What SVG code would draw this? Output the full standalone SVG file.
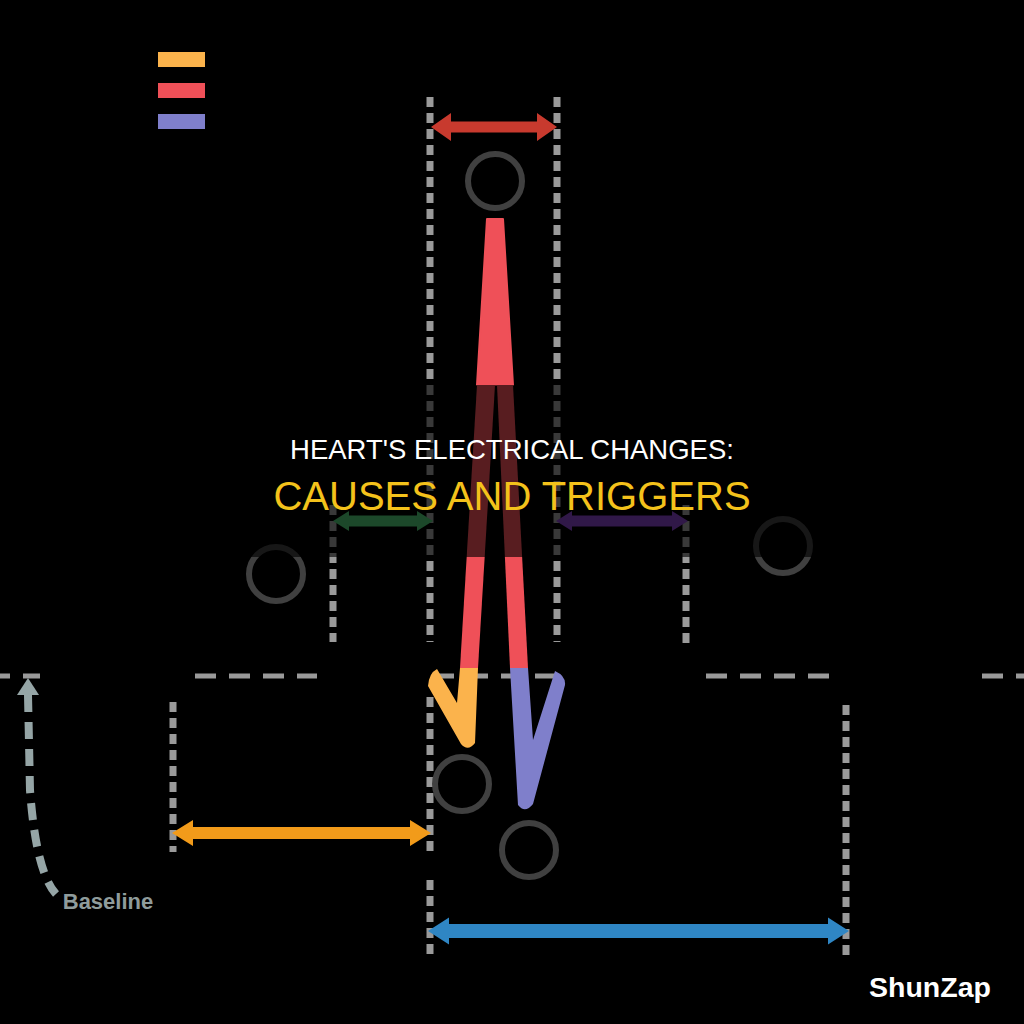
<svg xmlns="http://www.w3.org/2000/svg" width="1024" height="1024" viewBox="0 0 1024 1024">
<style>
.guide{stroke:#9a9a9a;stroke-width:7;stroke-dasharray:10 6;fill:none}
.base{stroke:#9a9a9a;stroke-width:5;stroke-dasharray:21 13;fill:none}
.ring{fill:none;stroke:#404040;stroke-width:6}
.title{font-family:"Liberation Sans",Arial,sans-serif;text-anchor:middle}
</style>
<rect width="1024" height="1024" fill="#000"/>
<g id="legend">
<rect x="158" y="52" width="47" height="15" fill="#FBB34C"/>
<rect x="158" y="83" width="47" height="15" fill="#EF5058"/>
<rect x="158" y="114" width="47" height="15" fill="#7F7FCB"/>
</g>
<g id="connectors">
<line class="guide" x1="430" y1="97" x2="430" y2="642"/>
<line class="guide" x1="557" y1="97" x2="557" y2="642"/>
<line class="guide" x1="333" y1="505" x2="333" y2="642"/>
<line class="guide" x1="686" y1="505" x2="686" y2="645"/>
<line class="guide" x1="173" y1="702" x2="173" y2="852"/>
<line class="guide" x1="430" y1="697" x2="430" y2="852"/>
<line class="guide" x1="430" y1="880" x2="430" y2="955"/>
<line class="guide" x1="846" y1="705" x2="846" y2="955"/>
<line class="base" x1="-11" y1="676" x2="40" y2="676"/>
<line class="base" x1="195" y1="676" x2="317" y2="676"/>
<line class="base" x1="433" y1="676" x2="556" y2="676"/>
<line class="base" x1="706" y1="676" x2="829" y2="676"/>
<line class="base" x1="982" y1="676" x2="1030" y2="676"/>
<path d="M431,127 L451,113 L451,121.5 L537,121.5 L537,113 L557,127 L537,141 L537,132.5 L451,132.5 L451,141 Z" fill="#C83A2E"/>
<path d="M333,521 L349,511 L349,515.5 L417,515.5 L417,511 L433,521 L417,531 L417,526.5 L349,526.5 L349,531 Z" fill="#4CC372"/>
<path d="M556,521 L572,511 L572,515.5 L672,515.5 L672,511 L688,521 L672,531 L672,526.5 L572,526.5 L572,531 Z" fill="#8241C3"/>
<path d="M172,833 L193,820 L193,827 L410,827 L410,820 L431,833 L410,846 L410,839 L193,839 L193,846 Z" fill="#F29B1A"/>
<path d="M428,931 L449,917.5 L449,924 L828,924 L828,917.5 L849,931 L828,944.5 L828,938 L449,938 L449,944.5 Z" fill="#2F86C4"/>
<path d="M28,695 L30,790 Q36,872 56,894" fill="none" stroke="#95a5a6" stroke-width="8" stroke-dasharray="17 10"/>
<path d="M28,678 L17,695 L39,695 Z" fill="#95a5a6"/>
</g>
<g id="waveform">
<path d="M487,219 L503,219 L513,385 L477,385 Z" fill="#EF5058" stroke="#EF5058" stroke-width="2" stroke-linejoin="round"/>
<path d="M477,385 L495,385 L478,668 L460,668 Z" fill="#EF5058"/>
<path d="M497,385 L513,385 L528,668 L510,668 Z" fill="#EF5058"/>
<path d="M460,668 L478,668 L475,743 Q468,752 461,744 L428,686 Q429,673 437,669 L457,703 Z" fill="#FBB34C"/>
<path d="M510,668 L528,668 L533,740 L555,671 Q566,676 565,685 L533,804 Q525,814 518,805 Z" fill="#7F7FCB"/>
</g>
<g id="node-top"><circle class="ring" cx="495" cy="181" r="27"/></g>
<g id="node-left"><circle class="ring" cx="276" cy="574" r="27"/></g>
<g id="node-right"><circle class="ring" cx="783" cy="546" r="27"/></g>
<g id="node-q"><circle class="ring" cx="462" cy="784" r="27"/></g>
<g id="node-s"><circle class="ring" cx="529" cy="850" r="27"/></g>
<rect x="0" y="385" width="1024" height="172" fill="#000" opacity="0.63"/>
<text x="108" y="909" font-family="Liberation Sans,Arial,sans-serif" font-weight="bold" font-size="22" fill="#8f9c9c" text-anchor="middle">Baseline</text>
<text class="title" x="512" y="459" font-size="27.5" fill="#ffffff">HEART'S ELECTRICAL CHANGES:</text>
<text class="title" x="512" y="510" font-size="40" fill="#F4C21B">CAUSES AND TRIGGERS</text>
<text x="930" y="997" font-family="Liberation Sans,Arial,sans-serif" font-weight="bold" font-size="28.5" fill="#ffffff" text-anchor="middle">ShunZap</text>
</svg>
